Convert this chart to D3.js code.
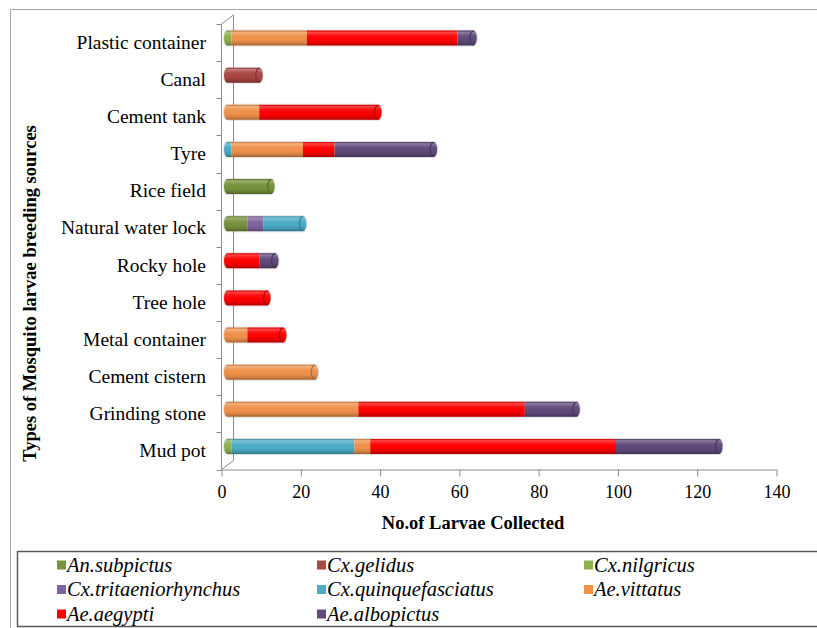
<!DOCTYPE html>
<html>
<head>
<meta charset="utf-8">
<script src="https://cdn.jsdelivr.net/npm/d3@7/dist/d3.min.js"></script>
<style>
  html, body { margin: 0; padding: 0; background: #fff; }
  svg { display: block; font-family: "Liberation Serif", "Times New Roman", serif; }
</style>
</head>
<body>
<svg id="chart" width="817" height="628"></svg>
<script>
// Breeding sources, listed top to bottom
const categories = ["Plastic container", "Canal", "Cement tank", "Tyre", "Rice field",
  "Natural water lock", "Rocky hole", "Tree hole", "Metal container", "Cement cistern",
  "Grinding stone", "Mud pot"];

// Larvae counts per species, aligned with categories
const anSubpictus        = [0, 0, 0, 0, 11, 5, 0, 0, 0, 0, 0, 0];
const cxGelidus          = [0, 8, 0, 0, 0, 0, 0, 0, 0, 0, 0, 0];
const cxNilgricus        = [1, 0, 0, 0, 0, 0, 0, 0, 0, 0, 0, 1];
const cxTritaeniorhynchus= [0, 0, 0, 0, 0, 4, 0, 0, 0, 0, 0, 0];
const cxQuinquefasciatus = [0, 0, 0, 1, 0, 10, 0, 0, 0, 0, 0, 31];
const aeVittatus         = [19, 0, 8, 18, 0, 0, 0, 0, 5, 22, 33, 4];
const aeAegypti          = [38, 0, 30, 8, 0, 0, 8, 10, 9, 0, 42, 62];
const aeAlbopictus       = [4, 0, 0, 25, 0, 0, 4, 0, 0, 0, 13, 26];

const seriesNames = ["An.subpictus", "Cx.gelidus", "Cx.nilgricus", "Cx.tritaeniorhynchus",
  "Cx.quinquefasciatus", "Ae.vittatus", "Ae.aegypti", "Ae.albopictus"];
const seriesValues = [anSubpictus, cxGelidus, cxNilgricus, cxTritaeniorhynchus,
  cxQuinquefasciatus, aeVittatus, aeAegypti, aeAlbopictus];
const seriesColors = ["#77933C", "#AA4643", "#8FB04E", "#8064A2",
  "#4BACC6", "#F0924A", "#FF0000", "#604A7B"];

const xTicks = [0, 20, 40, 60, 80, 100, 120, 140];

// rows for d3.stack
const rows = categories.map((c, i) => {
  const r = { category: c };
  seriesNames.forEach((s, j) => { r[s] = seriesValues[j][i]; });
  return r;
});

const svg = d3.select("#chart");
const serif = '"Liberation Serif", "Times New Roman", serif';

// plot geometry
const frontLeft = 221.5, frontBottom = 469.5, plotTop = 24;
const depthX = 12, depthY = -9;          // offset of the back wall
const barDX = depthX / 2, barDY = depthY / 2;
const barH = 15, capR = 3.5;

const x = d3.scaleLinear().domain([0, 140]).range([frontLeft, 776.5]);
const y = d3.scaleBand().domain(categories).range([plotTop, frontBottom]).paddingInner(0).paddingOuter(0);
const color = d3.scaleOrdinal().domain(seriesNames).range(seriesColors);

// chart frame
svg.append("rect").attr("width", 817).attr("height", 628).attr("fill", "#fff");
svg.append("path")
  .attr("d", "M10.5,640 V9.5 H830")
  .attr("fill", "none").attr("stroke", "#A6A6A6").attr("stroke-width", 1);

// gradient giving the bars a cylindrical shading
const defs = svg.append("defs");
const grad = defs.append("linearGradient").attr("id", "cyl")
  .attr("x1", 0).attr("y1", 0).attr("x2", 0).attr("y2", 1);
[[0, "#000", 0.18], [0.12, "#fff", 0.28], [0.3, "#fff", 0.08], [0.6, "#000", 0.0],
 [0.85, "#000", 0.14], [1, "#000", 0.35]].forEach(([o, c, a]) =>
  grad.append("stop").attr("offset", o).attr("stop-color", c).attr("stop-opacity", a));

// walls: back wall edge and connecting diagonals
const axisColor = "#8C8C8C";
const walls = svg.append("g").attr("stroke", axisColor).attr("fill", "none").attr("stroke-width", 1);
walls.append("line")
  .attr("x1", frontLeft + depthX).attr("y1", plotTop + depthY)
  .attr("x2", frontLeft + depthX).attr("y2", frontBottom + depthY);
walls.append("line")
  .attr("x1", frontLeft).attr("y1", plotTop)
  .attr("x2", frontLeft + depthX).attr("y2", plotTop + depthY);
walls.append("line")
  .attr("x1", frontLeft).attr("y1", frontBottom)
  .attr("x2", frontLeft + depthX).attr("y2", frontBottom + depthY);

// vertical axis line with boundary ticks
walls.append("line")
  .attr("x1", frontLeft).attr("y1", plotTop)
  .attr("x2", frontLeft).attr("y2", frontBottom);
const bounds = categories.map(c => y(c)).concat([frontBottom]);
walls.selectAll("line.ytick").data(bounds).join("line").attr("class", "ytick")
  .attr("x1", frontLeft - 5).attr("x2", frontLeft)
  .attr("y1", d => Math.round(d) + 0.5).attr("y2", d => Math.round(d) + 0.5);

// category labels
const yAxis = d3.axisLeft(y).tickSize(0).tickPadding(0);
const gy = svg.append("g").attr("transform", `translate(${206},0)`).call(yAxis);
gy.attr("font-family", serif);
gy.select(".domain").remove();
gy.selectAll("text")
  .attr("font-family", serif).attr("font-size", 19.5).attr("fill", "#000")
  .attr("dy", "0.32em");

// horizontal axis
const xAxis = d3.axisBottom(x).tickValues(xTicks).tickSize(7).tickPadding(9).tickSizeOuter(0);
const gx = svg.append("g").attr("transform", `translate(0,${frontBottom})`).call(xAxis);
gx.attr("font-family", serif);
gx.select(".domain").attr("stroke", axisColor);
gx.selectAll(".tick line").attr("stroke", axisColor);
gx.selectAll("text").attr("font-family", serif).attr("font-size", 18).attr("fill", "#000");

// stacked cylinders
const stacked = d3.stack().keys(seriesNames)(rows);
const barsG = svg.append("g");
categories.forEach((cat, i) => {
  const yc = y(cat) + y.bandwidth() / 2 + barDY;
  const segs = stacked.map(s => ({ key: s.key, v0: s[i][0], v1: s[i][1] }))
    .filter(s => s.v1 > s.v0);
  const total = d3.max(segs, s => s.v1) || 0;
  if (!total) return;
  const x0 = x(0) + barDX, x1 = x(total) + barDX;
  const top = yc - barH / 2, bot = yc + barH / 2;
  const outline = `M${x0},${top} L${x1},${top} A${capR},${barH / 2} 0 0 1 ${x1},${bot} ` +
    `L${x0},${bot} A${capR},${barH / 2} 0 0 1 ${x0},${top} Z`;
  const clipId = "clip" + i;
  defs.append("clipPath").attr("id", clipId).append("path").attr("d", outline);

  const g = barsG.append("g");
  // soft halo
  g.append("path").attr("d", outline).attr("fill", "none")
    .attr("stroke", "#000").attr("stroke-opacity", 0.12).attr("stroke-width", 2);
  const body = g.append("g").attr("clip-path", `url(#${clipId})`);
  body.selectAll("rect").data(segs).join("rect")
    .attr("x", (d, k) => k === 0 ? x0 - capR - 1 : x(d.v0) + barDX)
    .attr("width", (d, k) => (k === segs.length - 1 ? x1 + capR + 1 : x(d.v1) + barDX) -
      (k === 0 ? x0 - capR - 1 : x(d.v0) + barDX))
    .attr("y", top - 1).attr("height", barH + 2)
    .attr("fill", d => color(d.key));
  body.append("rect").attr("x", x0 - capR - 1).attr("width", x1 - x0 + 2 * capR + 2)
    .attr("y", top).attr("height", barH).attr("fill", "url(#cyl)");
  // end cap rim
  const last = segs[segs.length - 1];
  g.append("path")
    .attr("d", `M${x1},${top + 0.5} A${capR},${barH / 2 - 0.5} 0 0 0 ${x1},${bot - 0.5}`)
    .attr("fill", "none")
    .attr("stroke", d3.color(color(last.key)).darker(0.9))
    .attr("stroke-width", 1.2);
});

// axis titles
svg.append("text")
  .attr("transform", "translate(36,293.5) rotate(-90)")
  .attr("text-anchor", "middle")
  .attr("font-family", serif).attr("font-size", 18.5).attr("font-weight", "bold")
  .text("Types of Mosquito larvae breeding sources");
svg.append("text")
  .attr("x", 473).attr("y", 529)
  .attr("text-anchor", "middle")
  .attr("font-family", serif).attr("font-size", 18.5).attr("font-weight", "bold")
  .text("No.of Larvae Collected");

// legend
svg.append("rect").attr("x", 17.5).attr("y", 551.5).attr("width", 820).attr("height", 75)
  .attr("fill", "#fff").attr("stroke", "#595959").attr("stroke-width", 1.5);
const legendCols = [57, 317, 584], legendRows = [565, 589.5, 614];
const legend = svg.append("g").selectAll("g").data(seriesNames).join("g")
  .attr("transform", (d, k) => `translate(${legendCols[k % 3]},${legendRows[Math.floor(k / 3)]})`);
legend.append("rect").attr("x", 0).attr("y", -4.5).attr("width", 9).attr("height", 9)
  .attr("fill", d => color(d));
legend.append("text").attr("x", 10).attr("y", 6.5)
  .attr("font-family", serif).attr("font-size", 20.5).attr("font-style", "italic")
  .text(d => d);
</script>
</body>
</html>
